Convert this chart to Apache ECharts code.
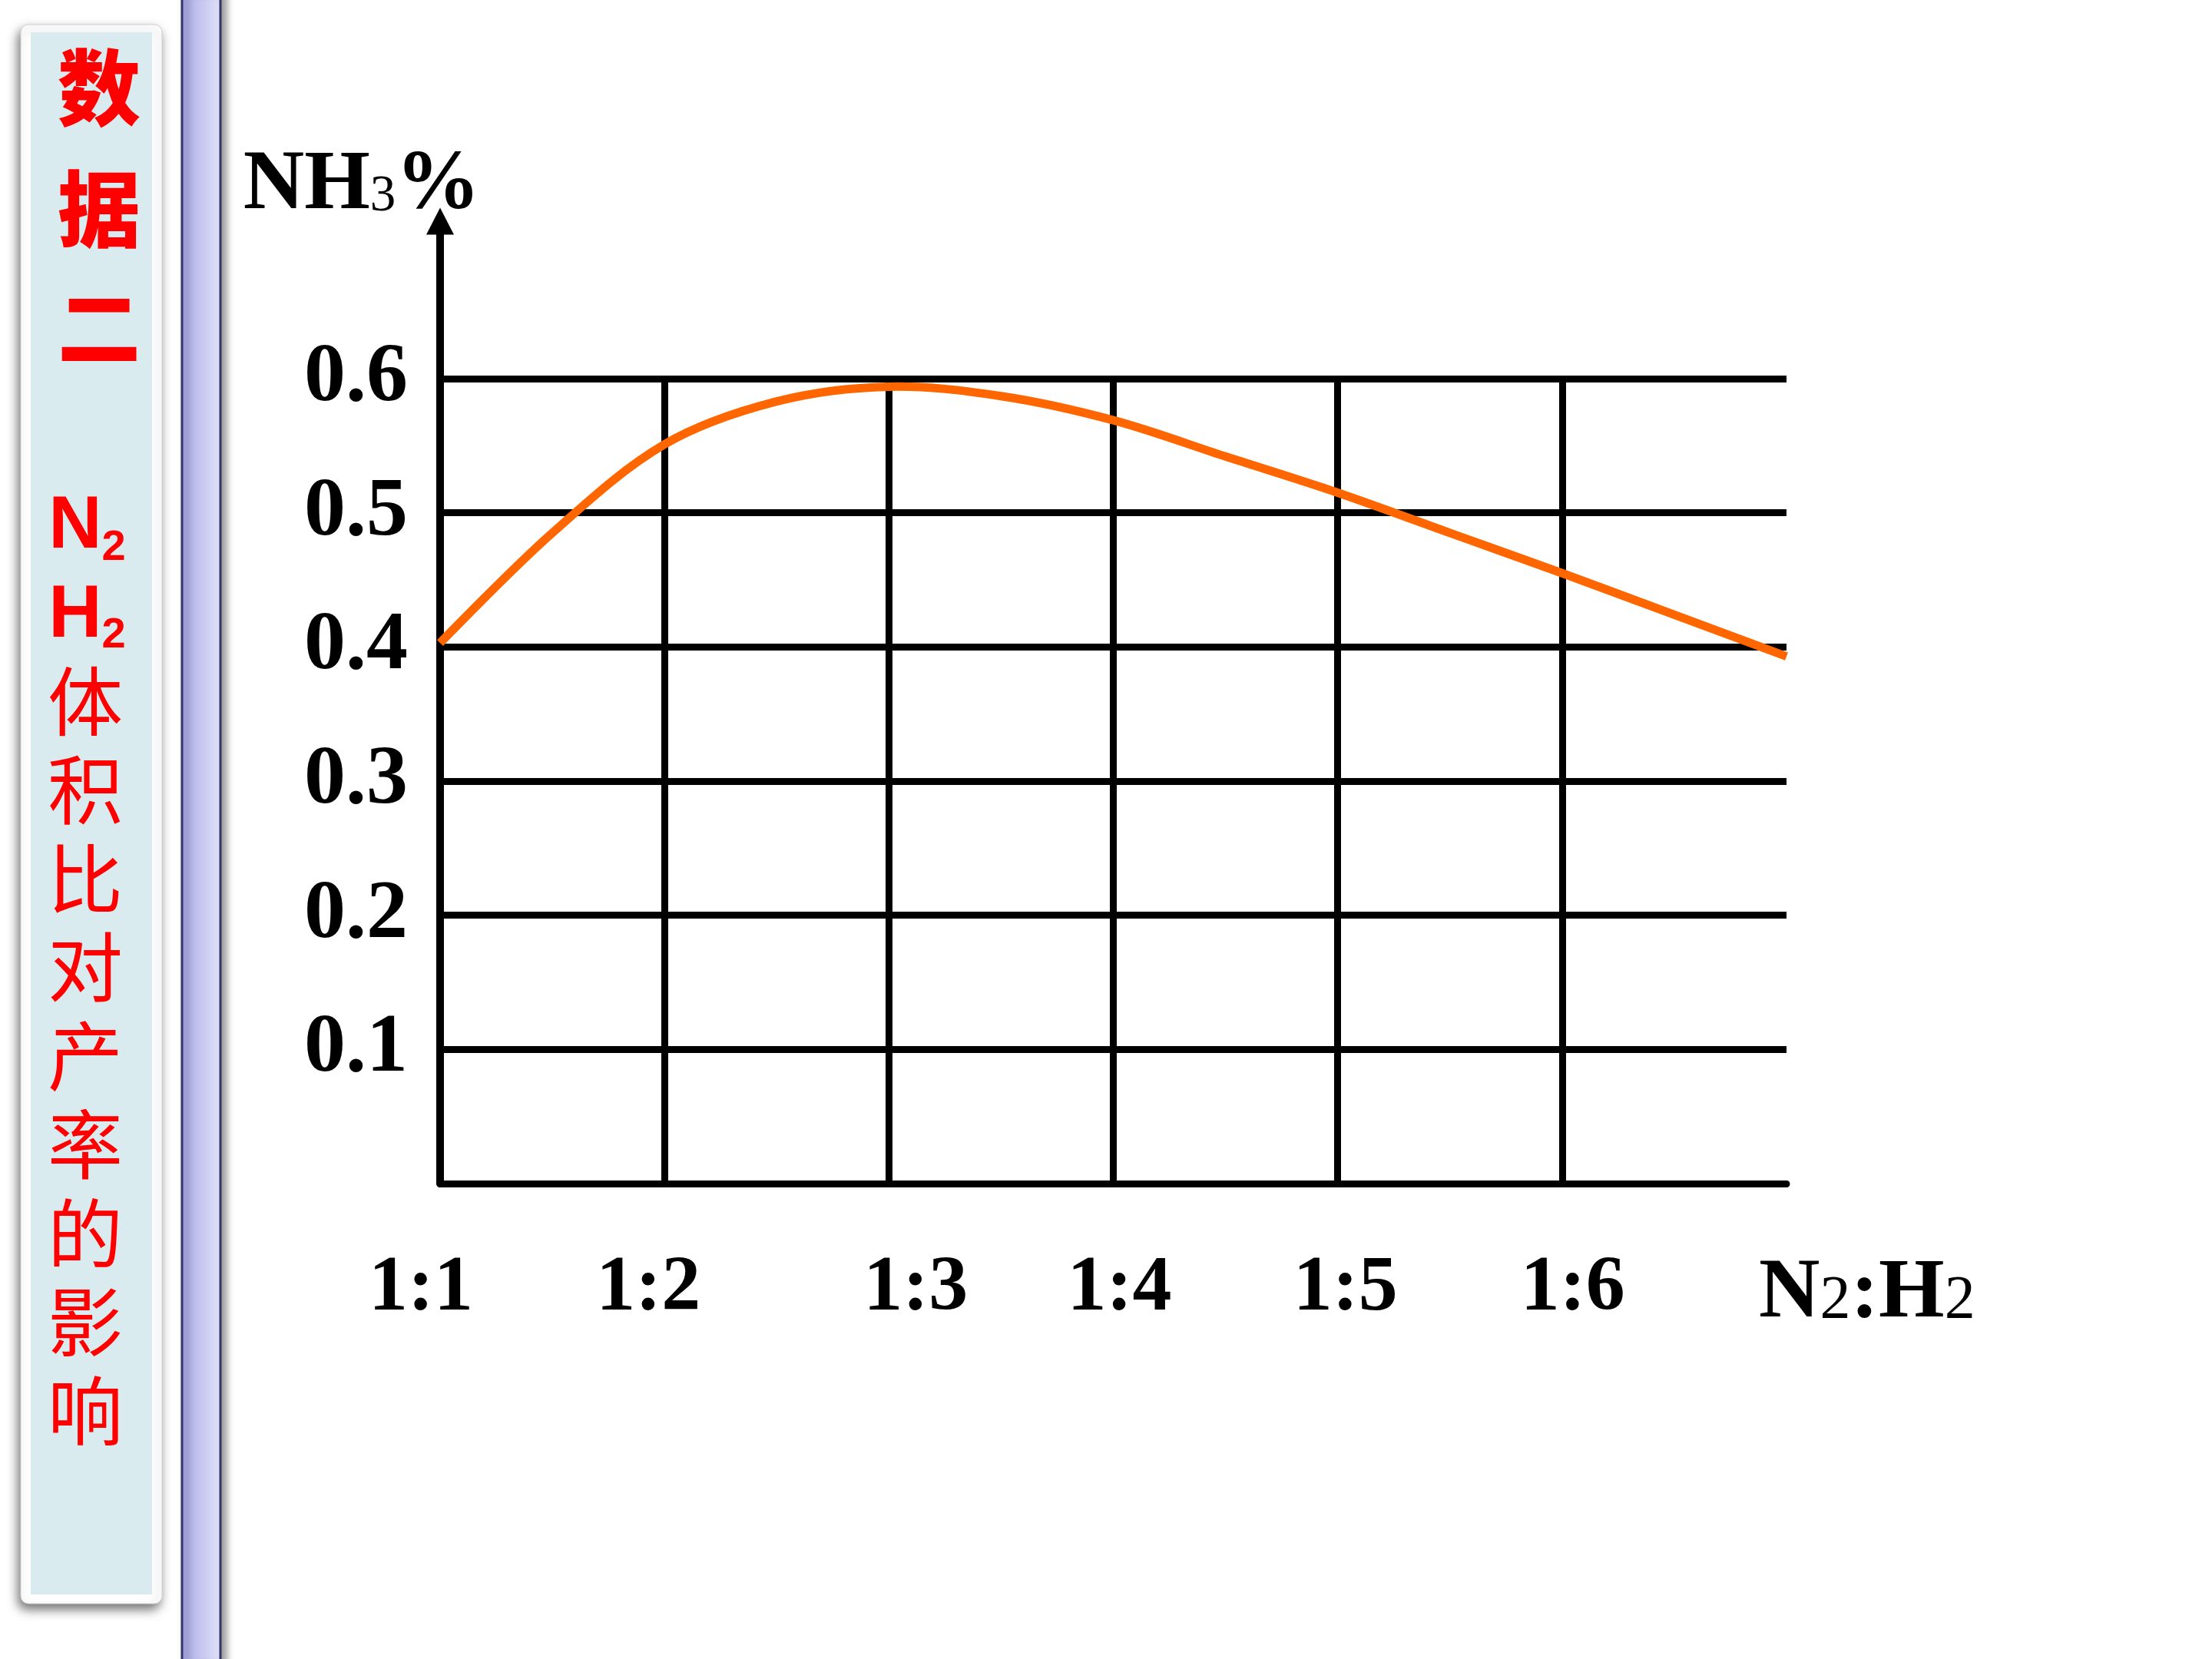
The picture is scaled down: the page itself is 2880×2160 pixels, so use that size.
<!DOCTYPE html>
<html>
<head>
<meta charset="utf-8">
<script src="https://cdn.jsdelivr.net/npm/echarts@6/dist/echarts.min.js"></script>
<style>
  html, body { margin: 0; padding: 0; background: #ffffff; }
  #chart { width: 2880px; height: 2160px; }
</style>
</head>
<body>
<div id="chart"></div>
<script>
// ---- data ----
const ratios = ['1:1', '1:2', '1:3', '1:4', '1:5', '1:6', ''];
// positions along the ratio axis (index units) where the curve was read
const curveX = [0, 0.5, 1, 1.5, 2, 2.5, 3, 3.5, 4, 4.5, 5, 5.5, 6];
const nh3Percent = [0.403, 0.485, 0.551, 0.583, 0.594, 0.587, 0.569, 0.542, 0.515, 0.485, 0.455, 0.424, 0.393];
const yTickLabels = ['', '0.1', '0.2', '0.3', '0.4', '0.5', '0.6'];
const sideTitle = ['数', '据', '二'];
const sideText = ['体', '积', '比', '对', '产', '率', '的', '影', '响'];

// ---- style helpers (not data) ----
const serif = '"Liberation Serif", "Times New Roman", serif';
const xLabelShift = [-25, -21, 35, 8, 10, 14, 0];
const xRich = {};
xLabelShift.forEach((d, i) => {
  xRich['l' + i] = {
    fontFamily: serif, fontWeight: 'bold', fontSize: 102, color: '#000',
    padding: d >= 0 ? [0, 0, 0, 2 * d] : [0, -2 * d, 0, 0]
  };
});

const chart = echarts.init(document.getElementById('chart'), null, { renderer: 'canvas' });

const gridLeft = 573, gridRight = 2880 - 2326, gridBottom = 2160 - 1541;

const graphics = [
  { type: 'rect', z: 0, shape: { x: 27, y: 32, width: 184, height: 2056, r: 10 },
    style: { fill: '#ffffff', stroke: '#d0d0d0', lineWidth: 1, shadowBlur: 14,
             shadowColor: 'rgba(0,0,0,0.55)', shadowOffsetX: -3, shadowOffsetY: 7 } },
  { type: 'rect', z: 1, shape: { x: 40, y: 42, width: 158, height: 2034 },
    style: { fill: '#daebef' } },
  { type: 'rect', z: 1, shape: { x: 237, y: -10, width: 50, height: 2180 },
    style: { fill: new echarts.graphic.LinearGradient(0, 0, 1, 0, [
               { offset: 0, color: '#a9a9ea' }, { offset: 1, color: '#e3e3f7' }]),
             stroke: '#34346e', lineWidth: 3, shadowBlur: 10,
             shadowColor: 'rgba(0,0,0,0.4)', shadowOffsetX: 6 } }
];
const titleY = [114, 272, 426];
sideTitle.forEach((ch, i) => {
  graphics.push({ type: 'text', z: 3, x: 129, y: titleY[i],
    style: { text: ch, fontFamily: '"Noto Sans CJK SC"', fontWeight: 900, fontSize: 108,
             fill: '#ff0000', align: 'center', verticalAlign: 'middle' } });
});
[['N', 687, 714], ['H', 803, 828]].forEach(([letter, y1, y2]) => {
  graphics.push({ type: 'text', z: 3, x: 98, y: y1,
    style: { text: letter, fontFamily: '"Liberation Sans", Arial, sans-serif', fontWeight: 'bold',
             fontSize: 96, fill: '#ff0000', align: 'center', verticalAlign: 'middle' } });
  graphics.push({ type: 'text', z: 3, x: 148, y: y2,
    style: { text: '2', fontFamily: '"Liberation Sans", Arial, sans-serif', fontWeight: 'bold',
             fontSize: 56, fill: '#ff0000', align: 'center', verticalAlign: 'middle' } });
});
graphics.push({ type: 'text', z: 3, x: 111, y: 855,
  style: { text: sideText.join('\n'), fontFamily: '"Noto Sans CJK SC"', fontWeight: 'normal',
           fontSize: 98, lineHeight: 115.5, fill: '#ff0000', align: 'center', verticalAlign: 'top' } });

const option = {
  backgroundColor: '#ffffff',
  animation: false,
  grid: [
    { left: gridLeft, right: gridRight, top: 493, bottom: gridBottom, containLabel: false, outerBoundsMode: 'none' },
    { left: gridLeft, right: gridRight, top: 288, bottom: gridBottom, containLabel: false, outerBoundsMode: 'none' }
  ],
  xAxis: [
    {
      gridIndex: 0, type: 'category', data: ratios, boundaryGap: false,
      axisLine: { show: true, lineStyle: { color: '#000', width: 9 } },
      axisTick: { show: false },
      axisLabel: {
        show: true, margin: 87, interval: 0,
        formatter: (val, idx) => val ? '{l' + idx + '|' + val + '}' : '',
        rich: xRich
      },
      splitLine: { show: true, interval: (idx) => idx > 0 && idx < ratios.length - 1,
                   lineStyle: { color: '#000', width: 9 } },
      name: '{b|N}{s|2}{b|:H}{s|2}',
      nameLocation: 'end', nameGap: -36,
      nameTextStyle: {
        padding: [290, 0, 0, 0],
        rich: {
          b: { fontFamily: serif, fontWeight: 'bold', fontSize: 110, lineHeight: 110, color: '#000', verticalAlign: 'bottom' },
          s: { fontFamily: serif, fontWeight: 'normal', fontSize: 80, lineHeight: 80, color: '#000', verticalAlign: 'bottom', padding: [0, 0, 6, 0] }
        }
      }
    },
    { gridIndex: 1, type: 'value', show: false, min: 0, max: 1 },
    { gridIndex: 0, type: 'value', show: false, min: 0, max: ratios.length - 1 }
  ],
  yAxis: [
    {
      gridIndex: 0, type: 'value', min: 0, max: 0.6, interval: 0.1,
      axisLine: { show: false },
      axisTick: { show: false },
      axisLabel: {
        margin: 42, color: '#000', fontFamily: serif, fontWeight: 'bold', fontSize: 108,
        formatter: (v) => yTickLabels[Math.round(v * 10)] || ''
      },
      splitLine: { show: true, lineStyle: { color: '#000', width: 9 } }
    },
    {
      gridIndex: 1, type: 'value', min: 0, max: 1,
      axisLine: { show: true, symbol: ['none', 'triangle'], symbolSize: [36, 35],
                  lineStyle: { color: '#000', width: 10 } },
      axisTick: { show: false }, axisLabel: { show: false }, splitLine: { show: false },
      name: '{b|NH}{s|3}{b|%}',
      nameLocation: 'end', nameGap: -10,
      nameTextStyle: {
        padding: [0, 204, 0, 0],
        rich: {
          b: { fontFamily: serif, fontWeight: 'bold', fontSize: 110, lineHeight: 110, color: '#000', verticalAlign: 'bottom' },
          s: { fontFamily: serif, fontWeight: 'normal', fontSize: 67, lineHeight: 67, color: '#000', verticalAlign: 'bottom', padding: [0, 0, 8, 0] }
        }
      }
    }
  ],
  series: [
    {
      name: 'NH3%',
      type: 'custom', coordinateSystem: 'cartesian2d', xAxisIndex: 2, yAxisIndex: 0,
      data: curveX.map((x, i) => [x, nh3Percent[i]]),
      z: 5, clip: false,
      renderItem: (params, api) => {
        if (params.dataIndex !== 0) return null;
        const pts = curveX.map((x, i) => api.coord([x, nh3Percent[i]]));
        return {
          type: 'polyline',
          shape: { points: pts, smooth: 0.34 },
          style: { stroke: '#ff6600', lineWidth: 11, fill: null, lineCap: 'butt', lineJoin: 'round' }
        };
      }
    }
  ],
  graphic: graphics
};
chart.setOption(option);
</script>
</body>
</html>
